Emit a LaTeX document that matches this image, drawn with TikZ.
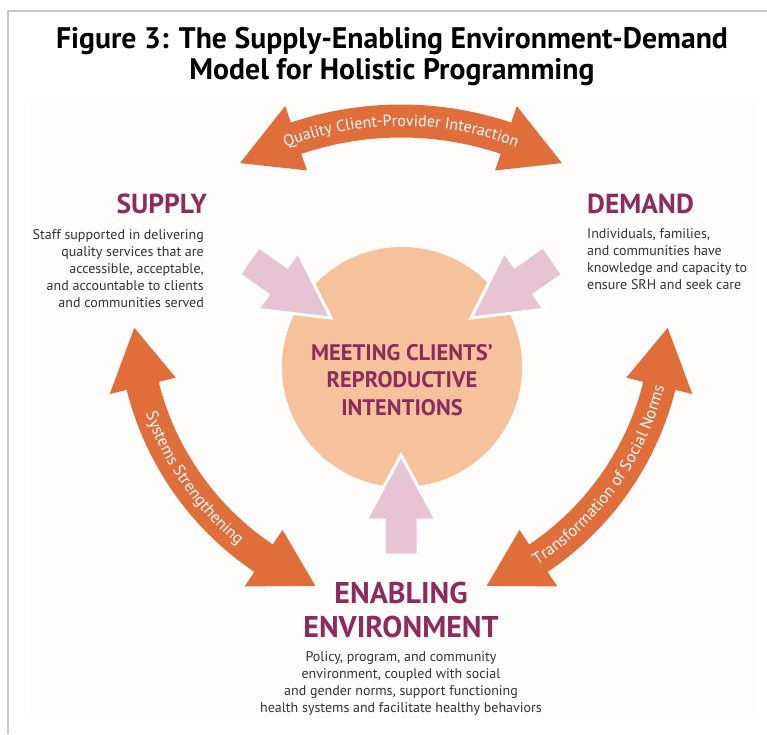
\documentclass[tikz,border=0pt]{standalone}
\usepackage{fontspec}
\setmainfont{PT Sans}
\usetikzlibrary{calc,decorations.text}
\definecolor{orangec}{HTML}{E06E3A}
\definecolor{pinkc}{HTML}{E7C4D4}
\definecolor{circlec}{HTML}{F5C29C}
\definecolor{purplec}{HTML}{8C2B5C}
\definecolor{bodyc}{HTML}{333333}
\definecolor{panelc}{HTML}{FEFDFB}
\definecolor{framec}{HTML}{C9C9CD}
\newcommand\orangearc[5]{%
  \pgfmathsetmacro\oaS{sign(#4-#3)}%
  \pgfmathsetmacro\oaBa{#3+\oaS*#5}%
  \pgfmathsetmacro\oaBb{#4-\oaS*#5}%
  \pgfmathsetmacro\oaRo{#2+16.5}%
  \pgfmathsetmacro\oaRi{#2-16.5}%
  \pgfmathsetmacro\oaHo{#2+34}%
  \pgfmathsetmacro\oaHi{#2-34}%
  \fill[orangec] ($(#1)+(#3:#2)$) -- ($(#1)+(\oaBa:\oaHo)$) -- ($(#1)+(\oaBa:\oaRo)$)
    arc[start angle=\oaBa, end angle=\oaBb, radius=\oaRo]
    -- ($(#1)+(\oaBb:\oaHo)$) -- ($(#1)+(#4:#2)$) -- ($(#1)+(\oaBb:\oaHi)$) -- ($(#1)+(\oaBb:\oaRi)$)
    arc[start angle=\oaBb, end angle=\oaBa, radius=\oaRi]
    -- ($(#1)+(\oaBa:\oaHi)$) -- cycle;}
\newcommand\pinkarr[2]{%
  \fill[pinkc, draw=white, line width=3pt, line join=miter] (#1)
    -- ($(#1)+(#2+180:65)+(#2+90:35)$) -- ($(#1)+(#2+180:65)+(#2+90:17)$)
    -- ($(#1)+(#2+180:100)+(#2+90:17)$) -- ($(#1)+(#2+180:100)+(#2-90:17)$)
    -- ($(#1)+(#2+180:65)+(#2-90:17)$) -- ($(#1)+(#2+180:65)+(#2-90:35)$) -- cycle;}
\newcommand\arcfontA{\fontsize{16}{18}\selectfont}
\newcommand\arcfontB{\fontsize{16.5}{18}\selectfont}
\tikzset{
  head/.style={text=purplec, font=\fontsize{27.5}{30}\selectfont\bfseries, inner sep=0pt},
  body/.style={text=bodyc, font=\fontsize{14}{16.9}\selectfont, inner sep=0pt},
  arctextA/.style={decorate, decoration={text along path, text align=center, text color=white, text={|\arcfontA|#1}}},
  arctextB/.style={decorate, decoration={text along path, text align=center, text color=white, text={|\arcfontB|#1}}}
}
\begin{document}
\begin{tikzpicture}[x=1pt,y=-1pt]
\useasboundingbox (0,0) rectangle (767,734);
\fill[white] (0,0) rectangle (767,734);
\fill[panelc] (30,100) rectangle (755,718);
\draw[framec, line width=2pt] (8,734) -- (8,11) -- (767,11);

\node[font=\fontsize{29.7}{31}\selectfont\bfseries, align=center, inner sep=0pt] (title) at (392,57)
  {Figure 3: The Supply-Enabling Environment-Demand\\Model for Holistic Programming};

% core circle
\node[circle, fill=circlec, minimum size=240pt, inner sep=0pt] (core) at (402,367) {};
\node[text=purplec, font=\fontsize{22.5}{27.5}\selectfont\bfseries, align=center, inner sep=0pt] (coretext) at (402,380)
  {MEETING CLIENTS’\\REPRODUCTIVE\\INTENTIONS};

% pink arrows
\coordinate (pl) at (331,318);
\coordinate (pr) at (471,318);
\coordinate (pb) at (401,455);
\pinkarr{pl}{35}
\pinkarr{pr}{145}
\pinkarr{pb}{-90}

% orange arc arrows
\coordinate (ct) at (401,450);
\coordinate (cl) at (427,315);
\coordinate (cr) at (375,315);
\orangearc{ct}{329}{-119.3}{-60.7}{10.7}
\orangearc{cl}{293}{177.5}{112.4}{11.5}
\orangearc{cr}{293}{2.5}{67.6}{11.5}
\path[arctextA={Quality Client-Provider Interaction}] ($(ct)+(-130:324)$) arc[start angle=-130, end angle=-50, radius=324];
\path[arctextB={Systems Strengthening}] ($(cl)+(178:298)$) arc[start angle=178, end angle=112, radius=298];
\path[arctextB={Transformation of Social Norms}] ($(cr)+(70:298)$) arc[start angle=70, end angle=1, radius=298];

% supply
\node[head, anchor=east] (supply) at (207,204) {SUPPLY};
\node[body, anchor=east, align=right] (supplytext) at (204,268.5)
  {Staff supported in delivering\\quality services that are\\accessible, acceptable,\\and accountable to clients\\and communities served};

% demand
\node[head, anchor=west] (demand) at (587,204) {DEMAND};
\node[body, anchor=west, align=left] (demandtext) at (587,259)
  {Individuals, families,\\and communities have\\knowledge and capacity to\\ensure SRH and seek care};

% enabling environment
\node[head, font=\fontsize{30}{34}\selectfont\bfseries, align=center] (enabling) at (401,610)
  {ENABLING\\ENVIRONMENT};
\node[body, align=center] (enablingtext) at (401,683.5)
  {Policy, program, and community\\environment, coupled with social\\and gender norms, support functioning\\health systems and facilitate healthy behaviors};
\end{tikzpicture}
\end{document}
